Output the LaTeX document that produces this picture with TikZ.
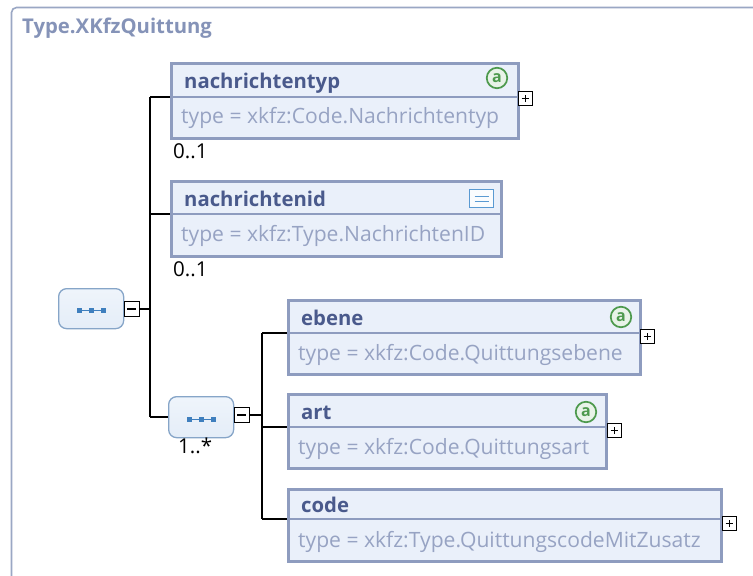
\documentclass[tikz,border=0pt]{standalone}
\usepackage{fontspec}
\setmainfont{Open Sans}
\definecolor{bord}{HTML}{8E9CBF}
\definecolor{boxfill}{HTML}{EAF0FA}
\definecolor{hdrc}{HTML}{4A5A8C}
\definecolor{typec}{HTML}{97A3C3}
\definecolor{framec}{HTML}{9AA7C4}
\definecolor{titlec}{HTML}{8593B8}
\definecolor{seqbord}{HTML}{86A5C8}
\definecolor{seqfill}{HTML}{E4EDF8}
\definecolor{seqdot}{HTML}{3F7FBE}
\definecolor{attrg}{HTML}{4E9A4E}
\definecolor{attrfill}{HTML}{E8F3E8}
\definecolor{simpb}{HTML}{5A9AD2}
\tikzset{
  elbox/.style={draw=bord, line width=2.6pt, fill=boxfill, inner sep=0pt, anchor=north west},
  divline/.style={draw=bord, line width=1.4pt},
  hdr/.style={font=\bfseries\fontsize{20.3}{21}\selectfont, text=hdrc, anchor=base west, inner sep=0pt},
  typ/.style={font=\fontsize{21.1}{22}\selectfont, text=typec, anchor=base west, inner sep=0pt},
  mult/.style={font=\fontsize{20.5}{21}\selectfont, text=black, anchor=base west, inner sep=0pt},
  conn/.style={draw=black, line width=1.4pt},
  pm/.style={draw=black, line width=1.3pt, fill=white, minimum size=13.5pt, inner sep=0pt, anchor=north west},
  seqbox/.style={draw=seqbord, line width=1.3pt, top color=seqfill!60!white, bottom color=seqfill, rounded corners=8pt, inner sep=0pt, anchor=north west},
  attr/.style={circle, draw=attrg, line width=1.7pt, fill=attrfill, minimum size=20.5pt, inner sep=0pt, text=attrg, font=\bfseries\fontsize{16}{16}\selectfont},
}
\newcommand{\seqicon}[1]{%
  \draw[seqdot, line width=0.8pt] ([xshift=-12pt,yshift=-2pt]#1.center) -- ([xshift=12pt,yshift=-2pt]#1.center);
  \foreach \dx in {-12,0,12} {\fill[seqdot] ([xshift=\dx pt-2.4pt,yshift=-4.4pt]#1.center) rectangle ([xshift=\dx pt+2.4pt,yshift=0.4pt]#1.center);}
}
\newcommand{\plusbox}[3]{%
  \node[pm] (#1) at (#2,#3) {};
  \draw[line width=1.2pt] ([xshift=-3.8pt]#1.center) -- ([xshift=3.8pt]#1.center) ([yshift=-3.8pt]#1.center) -- ([yshift=3.8pt]#1.center);
}
\newcommand{\minusbox}[3]{%
  \node[pm, minimum size=15.5pt] (#1) at (#2,#3) {};
  \draw[line width=1.4pt] ([xshift=-4.5pt]#1.center) -- ([xshift=4.5pt]#1.center);
}
\begin{document}
\begin{tikzpicture}[x=1pt,y=-1pt]
\useasboundingbox (0,0) rectangle (753,576);
\fill[white] (0,0) rectangle (753,576);
% frame
\draw[framec, line width=1.6pt, rounded corners=5pt] (11.5,600) -- (11.5,7.5) -- (780,7.5);
\node[font=\bfseries\fontsize{20.3}{21}\selectfont, text=titlec, anchor=base west, inner sep=0pt] (title) at (22,33) {Type.XKfzQuittung};

% nachrichtentyp
\node[elbox, minimum width=347pt, minimum height=75pt] (nt) at (170,62) {};
\draw[divline] (nt.west |- 0,97) -- (nt.east |- 0,97);
\node[hdr] (ntT) at (184,88) {nachrichtentyp};
\node[typ] (ntY) at (181,123) {type = xkfz:Code.Nachrichtentyp};
\node[attr] (ntA) at (497,78) {a};
\plusbox{ntP}{518}{91}
\node[mult] (ntM) at (173,158) {0..1};

% nachrichtenid
\node[elbox, minimum width=330pt, minimum height=75pt] (ni) at (170,180) {};
\draw[divline] (ni.west |- 0,214) -- (ni.east |- 0,214);
\node[hdr] (niT) at (184,206) {nachrichtenid};
\node[typ] (niY) at (181,241) {type = xkfz:Type.NachrichtenID};
\node[draw=simpb, line width=1.4pt, fill=white!70!simpb!10, minimum width=24pt, minimum height=18pt, inner sep=0pt, anchor=north west] (niI) at (469,189) {};
\draw[simpb, line width=1.2pt] ([xshift=-7pt,yshift=-2.5pt]niI.center) -- ([xshift=7pt,yshift=-2.5pt]niI.center) ([xshift=-7pt,yshift=2pt]niI.center) -- ([xshift=7pt,yshift=2pt]niI.center);
\node[mult] (niM) at (173,276) {0..1};

% left sequence
\node[seqbox, minimum width=65pt, minimum height=40pt] (s1) at (58,288) {};
\seqicon{s1}
\minusbox{s1m}{123.5}{300.5}

% lower sequence
\node[seqbox, minimum width=65pt, minimum height=41pt] (s2) at (168,396) {};
\seqicon{s2}
\minusbox{s2m}{233.5}{406.5}
\node[mult] (s2M) at (178,453) {1..*};

% ebene
\node[elbox, minimum width=352pt, minimum height=74pt] (eb) at (287,299) {};
\draw[divline] (eb.west |- 0,333) -- (eb.east |- 0,333);
\node[hdr] (ebT) at (301,325) {ebene};
\node[typ] (ebY) at (298,360) {type = xkfz:Code.Quittungsebene};
\node[attr] (ebA) at (621,317) {a};
\plusbox{ebP}{640}{329}

% art
\node[elbox, minimum width=318pt, minimum height=74pt] (ar) at (287,393) {};
\draw[divline] (ar.west |- 0,427) -- (ar.east |- 0,427);
\node[hdr] (arT) at (301,419) {art};
\node[typ] (arY) at (298,454) {type = xkfz:Code.Quittungsart};
\node[attr] (arA) at (586,412) {a};
\plusbox{arP}{607}{423}

% code
\node[elbox, minimum width=433pt, minimum height=72pt] (co) at (287,488) {};
\draw[divline] (co.west |- 0,519) -- (co.east |- 0,519);
\node[hdr] (coT) at (301,512) {code};
\node[typ] (coY) at (298,547) {type = xkfz:Type.QuittungscodeMitZusatz};
\plusbox{coP}{722}{516}

% connectors
\coordinate (v1top) at (150,97);
\coordinate (v1bot) at (150,417);
\draw[conn] (s1m.east) -- (s1m.east -| v1top);
\draw[conn] (v1top) -- (v1bot);
\draw[conn] (v1top) -- (nt.west |- v1top);
\draw[conn] (150,214) -- (ni.west |- 0,214);
\draw[conn] (v1bot) -- (s2.west |- v1bot);
\coordinate (v2top) at (262,333);
\coordinate (v2bot) at (262,519);
\draw[conn] (s2m.east) -- (s2m.east -| v2top);
\draw[conn] (v2top) -- (v2bot);
\draw[conn] (v2top) -- (eb.west |- v2top);
\draw[conn] (262,427) -- (ar.west |- 0,427);
\draw[conn] (v2bot) -- (co.west |- v2bot);
\end{tikzpicture}
\end{document}
